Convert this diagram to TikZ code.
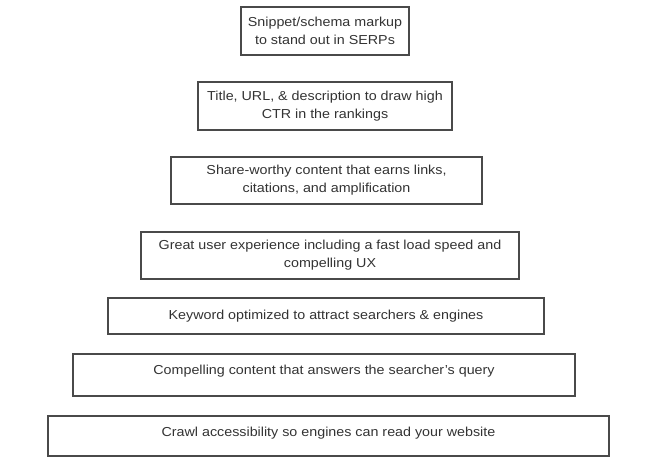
\documentclass[tikz,border=0pt]{standalone}
\usepackage{fontspec}
\setmainfont{Liberation Sans}[FakeStretch=1.1]
\definecolor{edge}{HTML}{4A4A4A}
\definecolor{txt}{HTML}{333333}
\begin{document}
\begin{tikzpicture}[x=1pt,y=-1pt,
  level/.style={draw=edge, line width=1.5pt, inner sep=0pt, align=center,
    text=txt, font=\fontsize{13}{18}\selectfont}]
\useasboundingbox (0,0) rectangle (656,467);
\node[level, minimum width=168, minimum height=48] (l1) at (325,31) {Snippet/schema markup\\to stand out in SERPs};
\node[level, minimum width=254, minimum height=48] (l2) at (325,106) {Title, URL, \& description to draw high\\CTR in the rankings};
\node[level, minimum width=311, minimum height=47] (l3) at (326.5,180.5) {Share-worthy content that earns links,\\citations, and amplification};
\node[level, minimum width=378, minimum height=47] (l4) at (330,255.5) {Great user experience including a fast load speed and\\compelling UX};
\node[level, minimum width=436, minimum height=36] (l5) at (326,316) {Keyword optimized to attract searchers \& engines};
\node[level, minimum width=502, minimum height=42] (l6) at (324,375) {\raisebox{1pt}[0pt][0pt]{Compelling content that answers the searcher’s query}};
\node[level, minimum width=561, minimum height=40] (l7) at (328.5,436) {\raisebox{0pt}[0pt][0pt]{Crawl accessibility so engines can read your website}};
\end{tikzpicture}
\end{document}
